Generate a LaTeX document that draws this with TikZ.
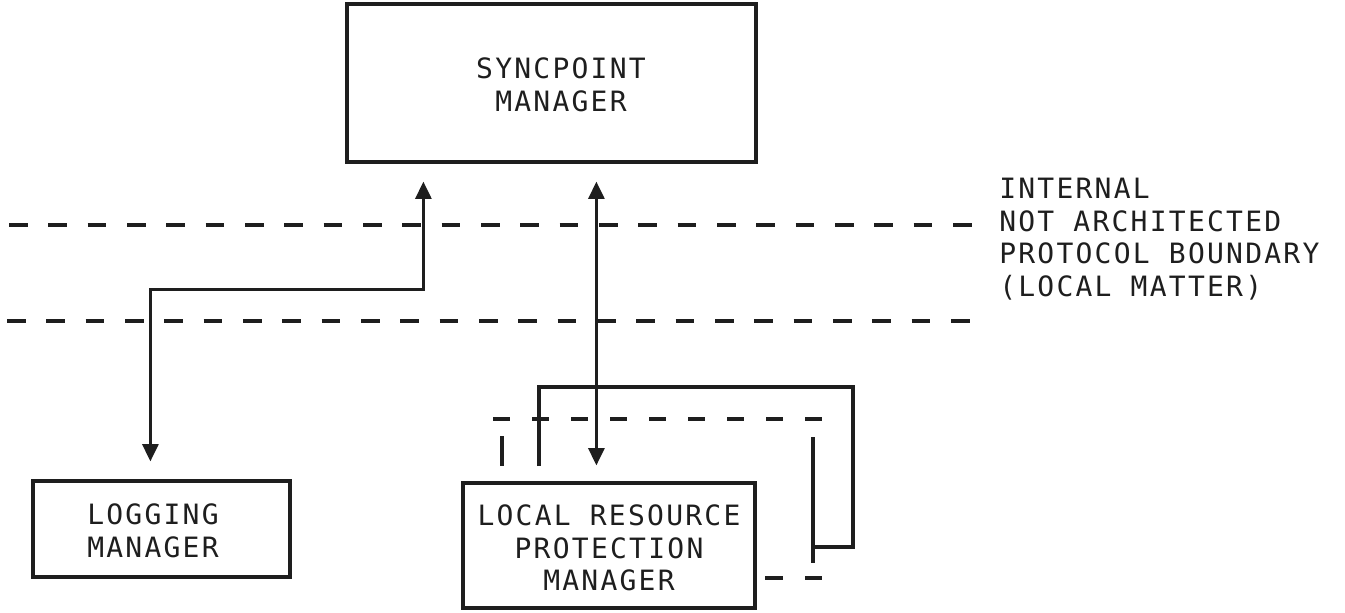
\documentclass[tikz,border=0pt]{standalone}
\usepackage{fontspec}
\newfontfamily\plotfont[LetterSpace=8]{DejaVu Sans Mono}
\usetikzlibrary{arrows.meta,calc}
\definecolor{inkc}{HTML}{1E1E1E}
\begin{document}
\begin{tikzpicture}[x=0.75pt,y=-0.75pt,
  ink/.style={line width=2.4pt,draw=inkc},
  box/.style={ink,rectangle,inner sep=0pt},
  label/.style={font=\plotfont\fontsize{21}{24.4}\selectfont,text=inkc,align=center,inner sep=0pt},
  boundary/.style={ink,dash pattern=on 13.9pt off 15.6pt},
  stackdash/.style={ink,dash pattern=on 12.75pt off 16.5pt},
  tip/.tip={Triangle[length=13pt,width=12pt]},
  conn/.style={line width=2.2pt,draw=inkc,tip-tip},
]
\useasboundingbox (0,0) rectangle (1345,612);

% main components
\node[box,minimum width=306.75pt,minimum height=118.5pt] (spm) at (551.5,83) {};
\node[label] (spmtext) at (561,85) {SYNCPOINT\\MANAGER};

\node[box,minimum width=192.75pt,minimum height=72pt] (lm) at (161.5,529) {};
\node[label] (lmtext) at (153,531) {LOGGING\\MANAGER};

\node[box,minimum width=219pt,minimum height=93.75pt] (lrpm) at (609,545.5) {};
\node[label] (lrpmtext) at (609,548) {LOCAL RESOURCE\\PROTECTION\\MANAGER};

% protocol boundaries
\draw[boundary] (9,225) -- (975,225);
\draw[boundary] (7,321) -- (975,321);
\node[label,align=left,anchor=west] (note) at (999,239)
  {INTERNAL\\NOT ARCHITECTED\\PROTOCOL BOUNDARY\\(LOCAL MATTER)};

% further resource managers stacked behind
\draw[stackdash] (493,419) -- (822,419);
\draw[ink] (502,436) -- (502,466);
\draw[ink] (813,437) -- (813,563);
\draw[ink] (765,578) -- (783,578);
\draw[ink] (805,578) -- (822,578);
\draw[ink] (539,466) -- (539,387) -- (853,387) -- (853,547) -- (813,547);

% flows between the managers
\draw[conn] ($(spm.south west)+(78,18)$) -- ++(0,108) -| ($(lm.north west)+(119,-18)$);
\draw[conn] ($(spm.south west)+(251,18)$) -- ($(lrpm.north west)+(135,-16)$);
\end{tikzpicture}
\end{document}
